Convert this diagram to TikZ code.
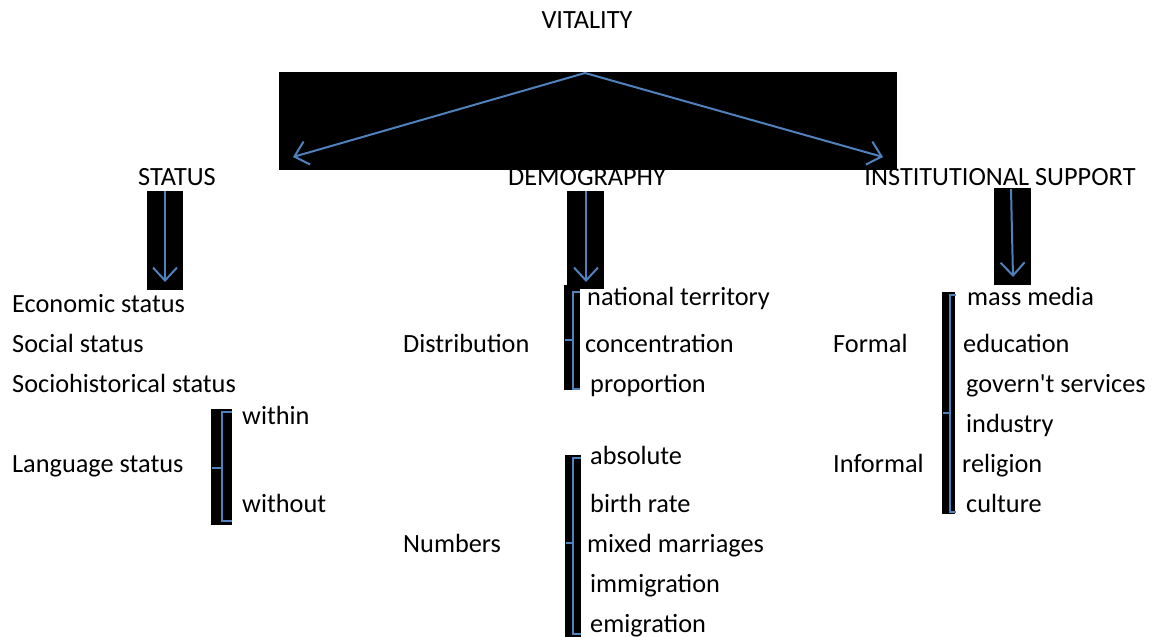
\documentclass[tikz,border=0pt]{standalone}
\usepackage{fontspec}
\setmainfont{Carlito}
\usetikzlibrary{arrows.meta, positioning}
\definecolor{office}{RGB}{79,129,189}

\begin{document}
\begin{tikzpicture}[x=1pt, y=-1pt,
  txt/.style={anchor=base west, inner sep=0pt, font=\fontsize{26.3}{30}\selectfont},
  head/.style={txt, anchor=base},
  mask/.style={fill=black},
  arr/.style={draw=office, line width=2pt, -{Straight Barb[length=13pt, width=24pt]}},
  brk/.style={draw=office, line width=2pt}
]
\useasboundingbox[fill=white] (0,0) rectangle (1163,637);

% Headings
\node[head] (vit) at (587,28) {VITALITY};
\node[head] (sta) at (177,185) {STATUS};
\node[head] (dem) at (587,185) {DEMOGRAPHY};
\node[head] (ins) at (1000,185) {INSTITUTIONAL SUPPORT};

% Status column
\node[txt] (eco) at (12,312) {Economic status};
\node[txt] (soc) at (12,352) {Social status};
\node[txt] (his) at (12,392) {Sociohistorical status};
\node[txt] (lng) at (12,472) {Language status};
\node[txt] (wtn) at (242,424) {within};
\node[txt] (wto) at (242,512) {without};

% Demography column
\node[txt] (dis) at (403,352) {Distribution};
\node[txt] (nat) at (587,305) {national territory};
\node[txt] (con) at (585,352) {concentration};
\node[txt] (pro) at (590,392) {proportion};
\node[txt] (num) at (403,552) {Numbers};
\node[txt] (abs) at (590,464) {absolute};
\node[txt] (bir) at (590,512) {birth rate};
\node[txt] (mix) at (587,552) {mixed marriages};
\node[txt] (imm) at (590,592) {immigration};
\node[txt] (emi) at (590,632) {emigration};

% Institutional support column
\node[txt] (frm) at (833,352) {Formal};
\node[txt] (inf) at (833,472) {Informal};
\node[txt] (mas) at (967,305) {mass media};
\node[txt] (edu) at (963,352) {education};
\node[txt] (gov) at (966,392) {govern\textquotesingle t services};
\node[txt] (ind) at (966,432) {industry};
\node[txt] (rel) at (962,472) {religion};
\node[txt] (cul) at (966,512) {culture};

% Black backings
\fill[mask] (279,72) rectangle (897,170);
\fill[mask] (147,191) rectangle (183,290);
\fill[mask] (567,191) rectangle (604,289);
\fill[mask] (994,188) rectangle (1031,285);
\fill[mask] (211,409) rectangle (232,525);
\fill[mask] (564,285) rectangle (580,390);
\fill[mask] (565,455) rectangle (581,637);
\fill[mask] (942,292) rectangle (955,514);

% Arrow ends
\coordinate (apex) at (585,73);
\coordinate (staT) at (293,157);
\coordinate (insT) at (883,157);
\coordinate (staA) at (165,191);
\coordinate (staB) at (165,282);
\coordinate (demA) at (586,191);
\coordinate (demB) at (586,282);
\coordinate (insA) at (1011,189);
\coordinate (insB) at (1013,277);

% Arrows
\draw[arr] (apex) -- (staT);
\draw[arr] (apex) -- (insT);
\draw[arr] (staA) -- (staB);
\draw[arr] (demA) -- (demB);
\draw[arr] (insA) -- (insB);

% Brackets
\draw[brk] (232,412) -- (222,412) -- (222,521) -- (232,521);
\draw[brk] (222,468) -- (212,468);
\draw[brk] (580,292) -- (573,292) -- (573,389) -- (580,389);
\draw[brk] (573,340) -- (565,340);
\draw[brk] (581,458) -- (573,458) -- (573,634) -- (581,634);
\draw[brk] (573,543) -- (566,543);
\draw[brk] (956,295) -- (950,295) -- (950,512) -- (956,512);
\draw[brk] (950,413) -- (943,413);

\end{tikzpicture}
\end{document}
